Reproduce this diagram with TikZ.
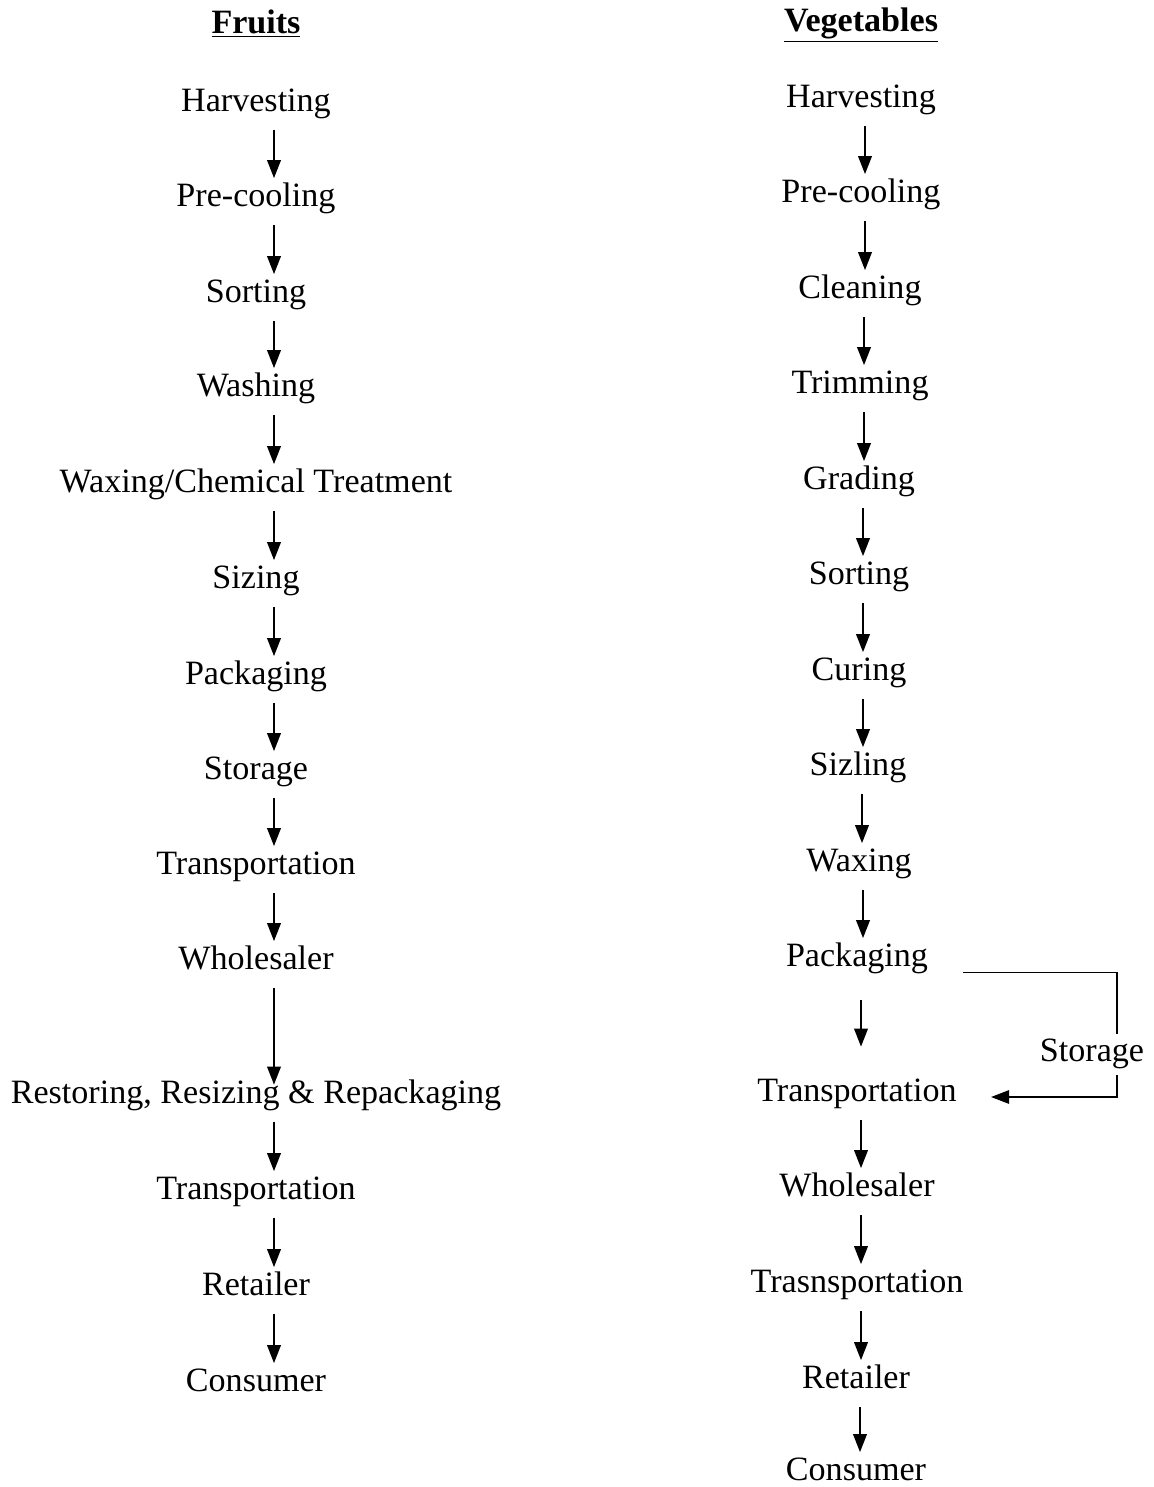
\documentclass[tikz,border=0pt]{standalone}
\usepackage{fontspec}
\setmainfont{Liberation Serif}
\usepackage{tikz}
\usetikzlibrary{arrows.meta}
\usetikzlibrary{calc}

\begin{document}
\begin{tikzpicture}[
  x=0.02cm, y=-0.02cm,
  font=\fontsize{19.4}{23}\selectfont,
  stage/.style={inner sep=0pt, text height=0.54cm, text depth=0.08cm},
  head/.style={stage, font=\fontsize{19.4}{23}\selectfont\bfseries},
  flow/.style={-{Triangle[length=0.36cm, width=0.27cm]}, line width=1.2pt,
               shorten <=0.29cm, shorten >=0.02cm},
  loopline/.style={line width=0.8pt}
]
\useasboundingbox (0,0) rectangle (1153,1487);

% Titles
\node[head] (ft) at (256,22) {\underline{Fruits}};
\node[head] (vt) at (861,20) {\underline{Vegetables}};

% Fruits column
\node[stage] (f1)  at (256,100)  {Harvesting};
\node[stage] (f2)  at (256,195)  {Pre-cooling};
\node[stage] (f3)  at (256,291)  {Sorting};
\node[stage] (f4)  at (256,385)  {Washing};
\node[stage] (f5)  at (256,481)  {Waxing/Chemical Treatment};
\node[stage] (f6)  at (256,577)  {Sizing};
\node[stage] (f7)  at (256,673)  {Packaging};
\node[stage] (f8)  at (256,768)  {Storage};
\node[stage] (f9)  at (256,863)  {Transportation};
\node[stage] (f10) at (256,958)  {Wholesaler};
\node[stage] (f11) at (256,1092) {Restoring, Resizing \& Repackaging};
\node[stage] (f12) at (256,1188) {Transportation};
\node[stage] (f13) at (256,1284) {Retailer};
\node[stage] (f14) at (256,1380) {Consumer};

\foreach \a/\b in {f1/f2,f2/f3,f3/f4,f4/f5,f5/f6,f6/f7,f7/f8,f8/f9,f9/f10,
                   f11/f12,f12/f13,f13/f14}
  \draw[flow] ([xshift=0.36cm]\a.south) -- ([xshift=0.36cm]\a.south |- \b.north);
\draw[flow, shorten >=-0.17cm] ([xshift=0.36cm]f10.south) -- ([xshift=0.36cm]f10.south |- f11.north);

% Vegetables column
\node[stage] (v1)  at (861,96)   {Harvesting};
\node[stage] (v2)  at (861,191)  {Pre-cooling};
\node[stage] (v3)  at (860,287)  {Cleaning};
\node[stage] (v4)  at (860,382)  {Trimming};
\node[stage] (v5)  at (859,478)  {Grading};
\node[stage] (v6)  at (859,573)  {Sorting};
\node[stage] (v7)  at (859,669)  {Curing};
\node[stage] (v8)  at (858,764)  {Sizling};
\node[stage] (v9)  at (859,860)  {Waxing};
\node[stage] (v10) at (857,955)  {Packaging};
\node[stage] (v11) at (857,1090) {Transportation};
\node[stage] (v12) at (857,1185) {Wholesaler};
\node[stage] (v13) at (857,1281) {Trasnsportation};
\node[stage] (v14) at (856,1377) {Retailer};
\node[stage] (v15) at (856,1469) {Consumer};

\foreach \a/\b in {v1/v2,v2/v3,v3/v4,v4/v5,v5/v6,v6/v7,v7/v8,v8/v9,v9/v10,
                   v11/v12,v12/v13,v13/v14,v14/v15}
  \draw[flow] ([xshift=0.08cm]\a.south) -- ([xshift=0.08cm]\a.south |- \b.north);
\draw[flow, shorten <=0.59cm, shorten >=0.55cm] ([xshift=0.08cm]v10.south) -- ([xshift=0.08cm]v10.south |- v11.north);

% Storage loop
\node[stage] (vs) at (1092,1050) {Storage};
\coordinate (vsa) at ([shift={(0.7cm,-0.03cm)}]v10.south east);
\draw[loopline] (vsa) -| ([xshift=0.5cm]vs.north);
\draw[flow, line width=0.8pt, shorten <=0.19cm, shorten >=0cm]
  ([xshift=0.5cm]vs.south) |- ([shift={(0.68cm,-0.14cm)}]v11.east);

\end{tikzpicture}
\end{document}
